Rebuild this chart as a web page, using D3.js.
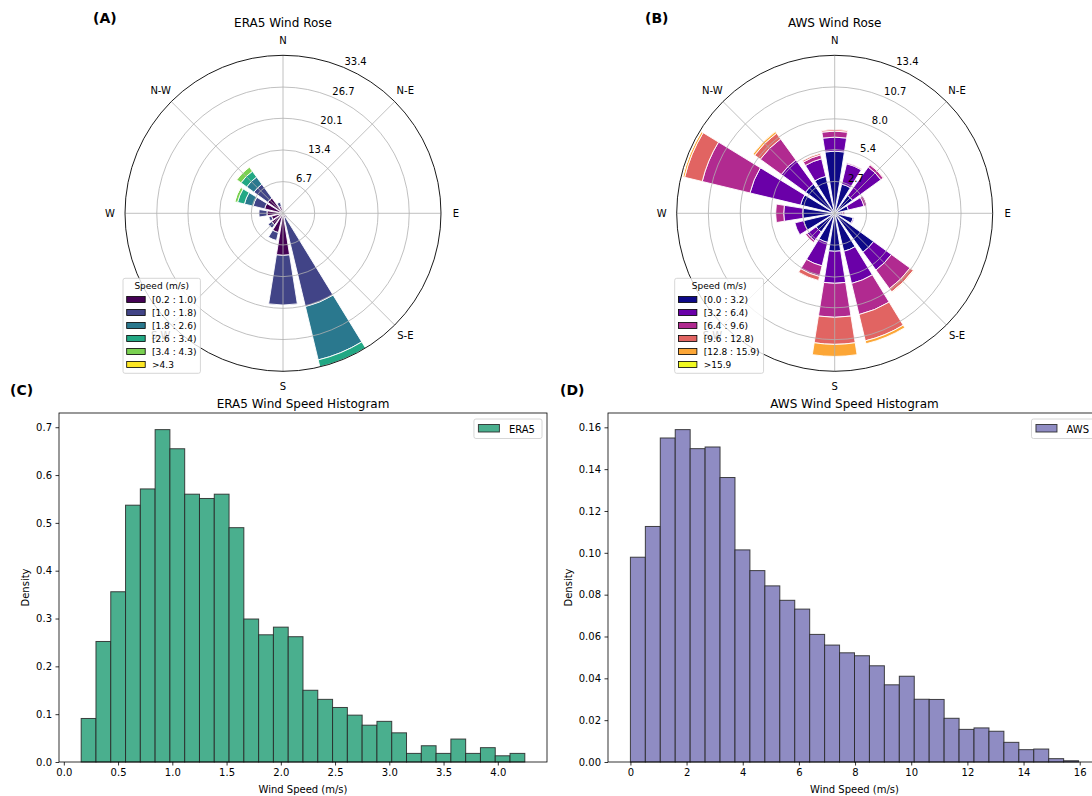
<!DOCTYPE html>
<html>
<head>
<meta charset="utf-8">
<script src="https://cdn.jsdelivr.net/npm/d3@7"></script>
<style>
body { margin: 0; background: #fff; }
svg { font-family: "DejaVu Sans", sans-serif; }
</style>
</head>
<body>
<svg id="fig" width="1092" height="796"></svg>
<script>
// wind directions, clockwise from north
var directions = ["N", "NNE", "NE", "ENE", "E", "ESE", "SE", "SSE",
                  "S", "SSW", "SW", "WSW", "W", "WNW", "NW", "NNW"];
var compassNames = ["N", "N-E", "E", "S-E", "S", "S-W", "W", "N-W"];

// ERA5 rose, frequency (%) per speed bin, one value per direction
var era5SpeedBins = ["[0.2 : 1.0)", "[1.0 : 1.8)", "[1.8 : 2.6)", "[2.6 : 3.4)", "[3.4 : 4.3)", ">4.3"];
var era5Bin1 = [0.5, 0.3, 0.2, 0.2, 0.3, 0.4, 0.8, 1.0, 8.9, 4.2, 3.0, 2.5, 3.4, 4.0, 4.0, 1.5];
var era5Bin2 = [0.2, 0.1, 0.0, 0.0, 0.1, 0.1, 0.3, 19.3, 10.5, 1.7, 0.9, 0.6, 1.7, 2.5, 3.6, 0.9];
var era5Bin3 = [0, 0, 0, 0, 0, 0, 0, 11.6, 0, 0, 0, 0, 0, 1.9, 1.9, 0];
var era5Bin4 = [0, 0, 0, 0, 0, 0, 0, 1.5, 0, 0, 0, 0, 0, 1.5, 1.5, 0];
var era5Bin5 = [0, 0, 0, 0, 0, 0, 0, 0, 0, 0, 0, 0, 0, 0.6, 1.1, 0];
var era5Bin6 = [0, 0, 0, 0, 0, 0, 0, 0, 0, 0, 0, 0, 0, 0.05, 0.1, 0];
var era5RoseTicks = ["6.7", "13.4", "20.1", "26.7", "33.4"];
var era5RoseMax = 33.42;

// AWS rose
var awsSpeedBins = ["[0.0 : 3.2)", "[3.2 : 6.4)", "[6.4 : 9.6)", "[9.6 : 12.8)", "[12.8 : 15.9)", ">15.9"];
var awsBin1 = [5.26, 2.54, 1.87, 1.19, 0.51, 1.61, 4.07, 3.31, 3.22, 2.54, 1.95, 2.71, 2.71, 2.97, 3.05, 3.22];
var awsBin2 = [1.19, 1.78, 2.97, 1.36, 0.17, 0.08, 1.87, 2.80, 2.71, 2.04, 0.93, 0.76, 1.61, 4.41, 2.54, 1.53];
var awsBin3 = [0.51, 0.08, 0.25, 0.25, 0.17, 0, 1.95, 2.71, 2.88, 0.93, 0.17, 0, 0.68, 4.16, 2.20, 0.34];
var awsBin4 = [0.13, 0, 0.05, 0, 0, 0, 0.34, 2.29, 2.29, 0.34, 0, 0, 0, 1.53, 0.59, 0.13];
var awsBin5 = [0, 0, 0, 0, 0, 0, 0.03, 0.25, 1.02, 0, 0, 0, 0, 0.17, 0.17, 0];
var awsBin6 = [0, 0, 0, 0, 0, 0, 0, 0, 0, 0, 0, 0, 0, 0.02, 0, 0];
var awsRoseTicks = ["2.7", "5.4", "8.0", "10.7", "13.4"];
var awsRoseMax = 13.38;

// histograms (density per bin)
var era5HistStart = 0.16, era5HistWidth = 0.1363;
var era5Density = [0.091, 0.252, 0.356, 0.537, 0.571, 0.695, 0.655, 0.560, 0.551, 0.560,
                   0.490, 0.299, 0.266, 0.282, 0.262, 0.150, 0.131, 0.114, 0.098, 0.077,
                   0.085, 0.061, 0.018, 0.034, 0.018, 0.048, 0.018, 0.030, 0.013, 0.018];
var era5XTicks = [0, 0.5, 1, 1.5, 2, 2.5, 3, 3.5, 4];
var era5YTicks = [0, 0.1, 0.2, 0.3, 0.4, 0.5, 0.6, 0.7];

var awsHistStart = 0, awsHistWidth = 0.532;
var awsDensity = [0.0979, 0.1126, 0.1549, 0.1589, 0.1498, 0.1506, 0.1360, 0.1014, 0.0915, 0.0842,
                  0.0773, 0.0731, 0.0610, 0.0559, 0.0522, 0.0508, 0.0460, 0.0369, 0.0410, 0.0300,
                  0.0299, 0.0209, 0.0156, 0.0163, 0.0147, 0.0094, 0.0059, 0.0062, 0.0016, 0.0006];
var awsXTicks = [0, 2, 4, 6, 8, 10, 12, 14, 16];
var awsYTicks = [0, 0.02, 0.04, 0.06, 0.08, 0.10, 0.12, 0.14, 0.16];

var viridis6 = [0, 0.2, 0.4, 0.6, 0.8, 1].map(d3.interpolateViridis);
var plasma6 = [0, 0.2, 0.4, 0.6, 0.8, 1].map(d3.interpolatePlasma);

var svg = d3.select("#fig");
var rad = Math.PI / 180;

function drawRose(o) {
    var R = 158;
    var g = svg.append("g").attr("transform", "translate(" + o.cx + "," + o.cy + ")");
    var r = d3.scaleLinear().domain([0, o.rmax]).range([0, R]);
    var step = 360 / directions.length;
    var half = step * 0.4;
    var arc = d3.arc();

    directions.forEach(function (dir, i) {
        var offset = 0;
        o.bins.forEach(function (bin, b) {
            var v = bin[i];
            if (!(v > 0)) return;
            g.append("path")
                .attr("d", arc({
                    innerRadius: r(offset), outerRadius: r(offset + v),
                    startAngle: (i * step - half) * rad, endAngle: (i * step + half) * rad
                }))
                .attr("fill", o.colors[b])
                .attr("stroke", "#fff")
                .attr("stroke-width", 0.9);
            offset += v;
        });
    });

    // grid on top of the bars, like matplotlib
    o.ticks.slice(0, -1).forEach(function (t) {
        g.append("circle").attr("r", r(+t))
            .attr("fill", "none").attr("stroke", "#b0b0b0").attr("stroke-width", 0.8);
    });
    compassNames.forEach(function (name, k) {
        var a = k * 45 * rad;
        g.append("line")
            .attr("x1", 0).attr("y1", 0)
            .attr("x2", R * Math.sin(a)).attr("y2", -R * Math.cos(a))
            .attr("stroke", "#b0b0b0").attr("stroke-width", 0.8);
    });
    g.append("circle").attr("r", R).attr("fill", "none").attr("stroke", "#000").attr("stroke-width", 0.9);

    compassNames.forEach(function (name, k) {
        var a = k * 45 * rad;
        g.append("text")
            .attr("x", 173 * Math.sin(a)).attr("y", -173 * Math.cos(a))
            .attr("text-anchor", "middle").attr("dominant-baseline", "central")
            .attr("font-size", 10).text(name);
    });

    var la = 22.5 * rad;
    o.ticks.forEach(function (t) {
        var rr = r(+t);
        g.append("text")
            .attr("x", rr * Math.sin(la) + 1).attr("y", -rr * Math.cos(la) - 2)
            .attr("font-size", 10).text(t);
    });

    svg.append("text").attr("x", o.cx).attr("y", 27)
        .attr("text-anchor", "middle").attr("font-size", 12).text(o.title);
    svg.append("text").attr("x", o.tagX).attr("y", 23)
        .attr("font-size", 14).attr("font-weight", "bold").text(o.tag);

    // legend, lower left of the polar axes (semi transparent, S-W shows through)
    var lg = g.append("g").attr("transform", "translate(" + (-160) + "," + 65 + ")");
    var box = lg.append("rect").attr("rx", 2).attr("ry", 2)
        .attr("fill", "#fff").attr("fill-opacity", 0.8)
        .attr("stroke", "#cccccc").attr("stroke-width", 0.8);
    var title = lg.append("text").attr("y", 10.5).attr("font-size", 9).text("Speed (m/s)");
    var maxW = title.node().getComputedTextLength();
    o.binLabels.forEach(function (lab, k) {
        var yy = 21 + k * 13;
        lg.append("rect").attr("x", 3.7).attr("y", yy - 2.8).attr("width", 18.5).attr("height", 6)
            .attr("fill", o.colors[k]).attr("stroke", "#000").attr("stroke-width", 0.8);
        var t = lg.append("text").attr("x", 29).attr("y", yy + 3.3).attr("font-size", 9).text(lab);
        maxW = Math.max(maxW, 29 + t.node().getComputedTextLength() - 4);
    });
    var bw = maxW + 8;
    box.attr("width", bw).attr("height", 95);
    title.attr("x", bw / 2).attr("text-anchor", "middle");
}

function drawHist(o) {
    var n = o.values.length;
    var lo = o.start, hi = o.start + n * o.width;
    var pad = (hi - lo) * 0.05;
    var x = d3.scaleLinear().domain([lo - pad, hi + pad]).range([o.left, o.right]);
    var y = d3.scaleLinear().domain([0, d3.max(o.values) * 1.05]).range([o.bottom, o.top]);
    var g = svg.append("g");

    g.selectAll("rect.bar").data(o.values).enter().append("rect")
        .attr("class", "bar")
        .attr("x", function (d, i) { return x(o.start + i * o.width); })
        .attr("width", function (d, i) { return x(o.start + (i + 1) * o.width) - x(o.start + i * o.width); })
        .attr("y", function (d) { return y(d); })
        .attr("height", function (d) { return y(0) - y(d); })
        .attr("fill", o.color)
        .attr("stroke", "#262626").attr("stroke-opacity", 0.85).attr("stroke-width", 1);

    var xa = g.append("g").attr("transform", "translate(0," + o.bottom + ")")
        .call(d3.axisBottom(x).tickValues(o.xTicks).tickFormat(d3.format(o.xFmt))
            .tickSize(3.5).tickPadding(3.5).tickSizeOuter(0));
    var ya = g.append("g").attr("transform", "translate(" + o.left + ",0)")
        .call(d3.axisLeft(y).tickValues(o.yTicks).tickFormat(d3.format(o.yFmt))
            .tickSize(3.5).tickPadding(3.5).tickSizeOuter(0));
    [xa, ya].forEach(function (a) {
        a.select(".domain").remove();
        a.selectAll("text").attr("font-size", 10).attr("fill", "#000").attr("font-family", "DejaVu Sans");
        a.selectAll("line").attr("stroke", "#000").attr("stroke-width", 0.8);
    });

    g.append("rect").attr("x", o.left).attr("y", o.top)
        .attr("width", o.right - o.left).attr("height", o.bottom - o.top)
        .attr("fill", "none").attr("stroke", "#000").attr("stroke-width", 0.8);

    // bbox is local to the axis group, so add the group offset back
    var yb = ya.node().getBBox();
    g.append("text")
        .attr("transform", "translate(" + (o.left + yb.x - 7) + "," + ((o.top + o.bottom) / 2) + ") rotate(-90)")
        .attr("text-anchor", "middle").attr("font-size", 10).text("Density");
    g.append("text").attr("x", (o.left + o.right) / 2).attr("y", o.bottom + 31)
        .attr("text-anchor", "middle").attr("font-size", 10).text("Wind Speed (m/s)");
    g.append("text").attr("x", (o.left + o.right) / 2).attr("y", o.top - 5.5)
        .attr("text-anchor", "middle").attr("font-size", 12).text(o.title);
    svg.append("text").attr("x", o.tagX).attr("y", 395)
        .attr("font-size", 14).attr("font-weight", "bold").text(o.tag);

    // legend, upper right
    var lg = g.append("g");
    var lab = lg.append("text").attr("font-size", 10).text(o.legend);
    var tw = lab.node().getComputedTextLength();
    var bw = tw + 42, bx = o.right - 5 - bw, by = o.top + 6;
    lg.insert("rect", "text").attr("x", bx).attr("y", by).attr("width", bw).attr("height", 19.5)
        .attr("rx", 2).attr("ry", 2)
        .attr("fill", "#fff").attr("fill-opacity", 0.8).attr("stroke", "#cccccc").attr("stroke-width", 0.8);
    lg.insert("rect", "text").attr("x", bx + 4.5).attr("y", by + 5.5).attr("width", 21).attr("height", 7.5)
        .attr("fill", o.color).attr("stroke", "#262626").attr("stroke-opacity", 0.85).attr("stroke-width", 1);
    lab.attr("x", bx + 35).attr("y", by + 13.5);
}

drawRose({
    cx: 283, cy: 213.3, rmax: era5RoseMax, ticks: era5RoseTicks,
    bins: [era5Bin1, era5Bin2, era5Bin3, era5Bin4, era5Bin5, era5Bin6],
    binLabels: era5SpeedBins, colors: viridis6,
    title: "ERA5 Wind Rose", tag: "(A)", tagX: 93
});
drawRose({
    cx: 834.7, cy: 213.3, rmax: awsRoseMax, ticks: awsRoseTicks,
    bins: [awsBin1, awsBin2, awsBin3, awsBin4, awsBin5, awsBin6],
    binLabels: awsSpeedBins, colors: plasma6,
    title: "AWS Wind Rose", tag: "(B)", tagX: 645
});

drawHist({
    left: 59, right: 547, top: 413, bottom: 762,
    start: era5HistStart, width: era5HistWidth, values: era5Density,
    xTicks: era5XTicks, yTicks: era5YTicks, xFmt: ".1f", yFmt: ".1f",
    color: "#4aaf8e", legend: "ERA5", title: "ERA5 Wind Speed Histogram",
    tag: "(C)", tagX: 10
});
drawHist({
    left: 608, right: 1101, top: 413, bottom: 762,
    start: awsHistStart, width: awsHistWidth, values: awsDensity,
    xTicks: awsXTicks, yTicks: awsYTicks, xFmt: "d", yFmt: ".2f",
    color: "#8f8cc3", legend: "AWS", title: "AWS Wind Speed Histogram",
    tag: "(D)", tagX: 560
});
</script>
</body>
</html>
